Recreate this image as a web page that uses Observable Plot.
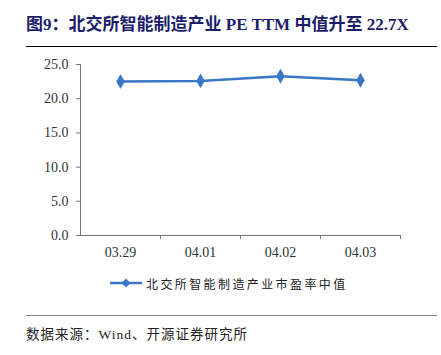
<!DOCTYPE html>
<html><head><meta charset="utf-8">
<script src="https://cdn.jsdelivr.net/npm/d3@7"></script>
<script src="https://cdn.jsdelivr.net/npm/@observablehq/plot@0.6"></script>
<style>
body{margin:0;background:#fff;width:441px;height:355px;position:relative;overflow:hidden;}
#title{position:absolute;left:26px;top:14px;width:411px;height:32px;border-bottom:1.5px solid #000;font-family:"Liberation Serif","Noto Sans CJK SC",serif;font-weight:bold;font-size:17px;color:#1b1d6b;white-space:nowrap;line-height:22px;}
#chart{position:absolute;left:0;top:50px;}
#legend{position:absolute;left:110px;top:274px;height:18px;display:flex;align-items:center;font-family:"Noto Sans CJK SC",sans-serif;font-size:12px;letter-spacing:2.4px;color:#222;}
#footer{position:absolute;left:26px;top:315px;width:411px;border-top:1.5px solid #888;font-family:"Liberation Serif","Noto Sans CJK SC",serif;font-size:13.5px;letter-spacing:1px;color:#222;padding-top:7px;}
</style></head>
<body>
<div id="title">图9：北交所智能制造产业 PE TTM 中值升至 22.7X</div>
<div id="chart"></div>
<div id="legend"><svg width="36" height="12"><line x1="0" y1="6" x2="32" y2="6" stroke="#3a77c6" stroke-width="2.5"/><path d="M16,1.5L20.5,6L16,10.5L11.5,6Z" fill="#3a77c6"/></svg><span>北交所智能制造产业市盈率中值</span></div>
<div id="footer">数据来源：Wind、开源证券研究所</div>
<script>
const dates = ["03.29", "04.01", "04.02", "04.03"];
const peMedian = [22.5, 22.6, 23.3, 22.7];
const yTicks = [0, 5, 10, 15, 20, 25];

const data = dates.map((d, i) => ({date: d, value: peMedian[i]}));
const color = "#3a77c6";

const chart = Plot.plot({
  width: 441,
  height: 210,
  marginLeft: 80,
  marginRight: 41,
  marginTop: 14,
  marginBottom: 25,
  style: {fontFamily: "Liberation Serif, serif", fontSize: "14px", color: "#333", background: "transparent"},
  x: {type: "point", domain: dates, padding: 0.5},
  y: {domain: [0, 25]},
  marks: [
    Plot.ruleY([0], {stroke: "#777", strokeWidth: 1}),
    Plot.ruleX([dates[0]], {dx: -40, y1: 0, y2: 25, stroke: "#777"}),
    Plot.axisY({ticks: yTicks, tickFormat: d3.format(".1f"), tickSize: 4, tickPadding: 8, stroke: "#777", fill: "#333", fontSize: 14, label: null}),
    Plot.axisX({tickSize: 4, dx: 40, stroke: "#777", tickFormat: () => "", label: null}),
    Plot.axisX({tickSize: 0, tickPadding: 12, fill: "#333", fontSize: 14, label: null}),
    Plot.line(data, {x: "date", y: "value", stroke: color, strokeWidth: 2.5}),
    Plot.dot(data, {x: "date", y: "value", symbol: "diamond", r: 4.5, fill: color, stroke: "none"})
  ]
});
document.getElementById("chart").appendChild(chart);
</script>
</body></html>
